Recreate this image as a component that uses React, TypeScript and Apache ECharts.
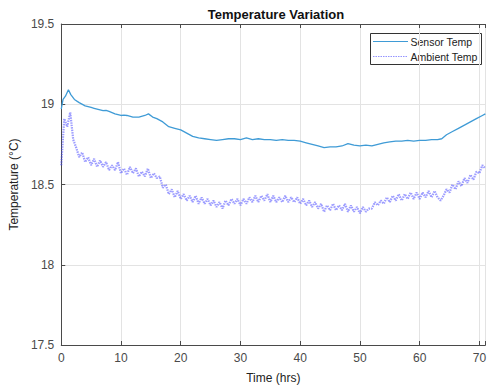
import React, { useEffect, useRef } from "react";
import * as echarts from "echarts";

const TITLE = "Temperature Variation";
const X_NAME = "Time (hrs)";
const Y_NAME = "Temperature (°C)";
const SERIES_NAMES = ["Sensor Temp", "Ambient Temp"];

// Sensor temperature: [hours, °C]
const SENSOR: [number, number][] = [
  [0, 18.97], [0.3, 19.03], [0.7, 19.05], [1.2, 19.09], [1.6, 19.06], [2.2, 19.03],
  [3, 19.01], [4, 18.99], [4.5, 18.985], [5, 18.98], [5.5, 18.975], [6, 18.97], [7, 18.96], [7.5, 18.962], [8, 18.955], [9, 18.94],
  [10, 18.93], [10.5, 18.932], [11, 18.93], [12, 18.92], [13, 18.92], [14, 18.93], [14.6, 18.94],
  [15.3, 18.92], [16, 18.91], [17, 18.89], [18, 18.86], [19, 18.85], [20, 18.84],
  [21, 18.82], [22, 18.8], [23, 18.79], [24, 18.785], [25, 18.78], [26, 18.775],
  [27, 18.78], [28, 18.785], [29, 18.785], [30, 18.78], [31, 18.79], [32, 18.78],
  [33, 18.785], [34, 18.78], [35, 18.78], [36, 18.775], [37, 18.78], [38, 18.775],
  [39, 18.775], [40, 18.77], [41, 18.76], [42, 18.75], [43, 18.74], [44, 18.73],
  [45, 18.735], [46, 18.735], [47, 18.74], [48, 18.755], [49, 18.745], [50, 18.74],
  [51, 18.745], [52, 18.74], [53, 18.75], [54, 18.76], [55, 18.765], [56, 18.77],
  [57, 18.77], [58, 18.775], [59, 18.77], [60, 18.775], [61, 18.775], [62, 18.78],
  [63, 18.78], [63.7, 18.785], [64.5, 18.81], [65.5, 18.83], [66.5, 18.85],
  [67.5, 18.87], [68.5, 18.89], [69.5, 18.91], [70.5, 18.93], [71, 18.94],
];

// Ambient temperature sampled every 0.5 h starting at 0 h
const AMBIENT_STEP = 0.5;
const AMBIENT: number[] = [
  18.62, 18.91, 18.86, 18.95, 18.78, 18.73, 18.67, 18.70, 18.64, 18.67,
  18.62, 18.66, 18.61, 18.65, 18.61, 18.64, 18.59, 18.62, 18.59, 18.64,
  18.57, 18.60, 18.56, 18.61, 18.57, 18.60, 18.55, 18.58, 18.55, 18.60,
  18.54, 18.57, 18.54, 18.55, 18.48, 18.50, 18.44, 18.47, 18.42, 18.46,
  18.41, 18.44, 18.40, 18.43, 18.39, 18.43, 18.38, 18.42, 18.38, 18.41,
  18.37, 18.40, 18.36, 18.39, 18.35, 18.40, 18.37, 18.41, 18.38, 18.41,
  18.37, 18.41, 18.38, 18.42, 18.39, 18.43, 18.39, 18.43, 18.40, 18.44,
  18.39, 18.43, 18.39, 18.42, 18.39, 18.43, 18.39, 18.42, 18.39, 18.42,
  18.38, 18.41, 18.37, 18.40, 18.36, 18.39, 18.35, 18.38, 18.33, 18.37,
  18.34, 18.38, 18.34, 18.37, 18.34, 18.38, 18.33, 18.37, 18.33, 18.36,
  18.32, 18.36, 18.33, 18.35, 18.35, 18.39, 18.37, 18.40, 18.38, 18.42,
  18.39, 18.43, 18.40, 18.44, 18.40, 18.44, 18.41, 18.45, 18.41, 18.45,
  18.41, 18.45, 18.42, 18.46, 18.42, 18.46, 18.42, 18.40, 18.43, 18.47,
  18.45, 18.50, 18.47, 18.52, 18.49, 18.54, 18.51, 18.56, 18.53, 18.58,
  18.57, 18.62, 18.60,
];

const X_MIN = 0;
const X_MAX = 71;
const X_INTERVAL = 10;
const Y_MIN = 17.5;
const Y_MAX = 19.5;
const Y_INTERVAL = 0.5;

const FONT = "'Liberation Sans', Arial, Helvetica, sans-serif";
const AXIS_COLOR = "#4a4a4a";
const LABEL_COLOR = "#4a4a4a";
const GRID_COLOR = "#e3e3e3";
const SENSOR_COLOR = "#3f9bd6";
const AMBIENT_COLOR = "#4b4bff";

export default function App() {
  const ref = useRef<HTMLDivElement>(null);
  useEffect(() => {
    if (!ref.current) return;
    const chart = echarts.init(ref.current, null, { renderer: "svg" });
    const ambientData = AMBIENT.map((v, i) => [i * AMBIENT_STEP, v]);
    chart.setOption({
      animation: false,
      backgroundColor: "#ffffff",
      textStyle: { fontFamily: FONT },
      grid: { left: 57.5, right: 0, top: 24, bottom: 34, containLabel: false },
      graphic: [
        {
          type: "text",
          x: 276,
          y: 14,
          style: {
            text: TITLE,
            fontFamily: FONT,
            fontSize: 13,
            fontWeight: "bold",
            fill: "#111",
            textAlign: "center",
            textVerticalAlign: "middle",
          },
        },
        {
          type: "group",
          z: 100,
          children: [
            {
              type: "rect",
              shape: { x: 370.5, y: 33.5, width: 111, height: 31 },
              style: { fill: "#ffffff", stroke: "#333333", lineWidth: 1 },
            },
            {
              type: "line",
              shape: { x1: 373, y1: 41.5, x2: 408, y2: 41.5 },
              style: { stroke: SENSOR_COLOR, lineWidth: 1.2 },
            },
            {
              type: "line",
              shape: { x1: 373, y1: 56.5, x2: 408, y2: 56.5 },
              style: { stroke: AMBIENT_COLOR, lineWidth: 1, lineDash: [1.5, 1], opacity: 0.6 },
            },
            {
              type: "text",
              x: 410.5,
              y: 42,
              style: {
                text: SERIES_NAMES[0],
                fontFamily: FONT,
                fontSize: 10.5,
                fill: "#222",
                textVerticalAlign: "middle",
              },
            },
            {
              type: "text",
              x: 410.5,
              y: 56.5,
              style: {
                text: SERIES_NAMES[1],
                fontFamily: FONT,
                fontSize: 10.5,
                fill: "#222",
                textVerticalAlign: "middle",
              },
            },
          ],
        },
      ],
      xAxis: [
        {
          type: "value",
          min: X_MIN,
          max: X_MAX,
          interval: X_INTERVAL,
          name: X_NAME,
          nameLocation: "middle",
          nameGap: 27,
          nameTextStyle: { fontFamily: FONT, fontSize: 12, color: "#222" },
          axisLine: { show: true, onZero: false, lineStyle: { color: AXIS_COLOR, width: 1 } },
          axisTick: { show: true, inside: true, length: 4, lineStyle: { color: AXIS_COLOR } },
          axisLabel: {
            margin: 7,
            fontSize: 12,
            color: LABEL_COLOR,
            fontFamily: FONT,
            formatter: (v: number) => (v % X_INTERVAL === 0 ? String(v) : ""),
          },
          splitLine: { show: true, lineStyle: { color: GRID_COLOR, width: 1 } },
        },
        {
          type: "value",
          position: "top",
          min: X_MIN,
          max: X_MAX,
          interval: X_INTERVAL,
          axisLine: { show: true, onZero: false, lineStyle: { color: AXIS_COLOR, width: 1 } },
          axisTick: { show: true, inside: true, length: 4, lineStyle: { color: AXIS_COLOR } },
          axisLabel: { show: false },
          splitLine: { show: false },
        },
      ],
      yAxis: {
        type: "value",
        min: Y_MIN,
        max: Y_MAX,
        interval: Y_INTERVAL,
        name: Y_NAME,
        nameLocation: "middle",
        nameGap: 39,
        nameTextStyle: { fontFamily: FONT, fontSize: 12, color: "#222" },
        axisLine: { show: true, lineStyle: { color: AXIS_COLOR, width: 1 } },
        axisTick: { show: true, inside: true, length: 4, lineStyle: { color: AXIS_COLOR } },
        axisLabel: { margin: 7, fontSize: 12, color: LABEL_COLOR, fontFamily: FONT },
        splitLine: { show: true, lineStyle: { color: GRID_COLOR, width: 1 } },
      },
      series: [
        {
          name: SERIES_NAMES[0],
          type: "line",
          data: SENSOR,
          showSymbol: false,
          symbol: "none",
          lineStyle: { color: SENSOR_COLOR, width: 1.3 },
          itemStyle: { color: SENSOR_COLOR },
          z: 3,
        },
        {
          name: SERIES_NAMES[1],
          type: "line",
          data: ambientData,
          showSymbol: false,
          symbol: "none",
          lineStyle: { color: AMBIENT_COLOR, width: 2.2, type: [1.5, 1], opacity: 0.55 },
          itemStyle: { color: AMBIENT_COLOR },
          z: 2,
        },
      ],
    });
    return () => chart.dispose();
  }, []);
  return <div ref={ref} style={{ width: 489, height: 389, position: "absolute", left: 0, top: 0 }} />;
}
